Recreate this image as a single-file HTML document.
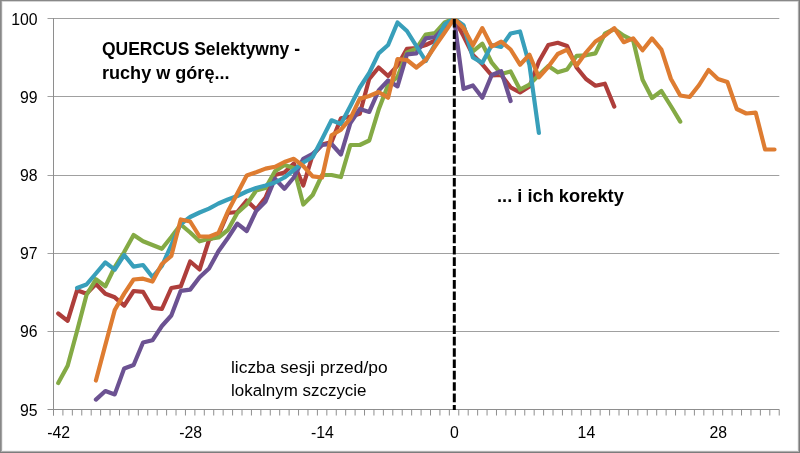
<!DOCTYPE html>
<html><head><meta charset="utf-8"><style>
html,body{margin:0;padding:0;background:#fff;}
#c{position:relative;width:800px;height:453px;overflow:hidden;background:#fff;}
svg{position:absolute;left:0;top:0;}
.t{font-family:"Liberation Sans",sans-serif;fill:#000;}
</style></head><body><div id="c">
<svg width="800" height="453" viewBox="0 0 800 453">
<g shape-rendering="crispEdges">
<rect x="0" y="0" width="800" height="1" fill="#888"/>
<rect x="1" y="1" width="797" height="1" fill="#d4d4d4"/>
<rect x="0" y="0" width="1" height="453" fill="#888"/>
<rect x="1" y="1" width="1" height="451" fill="#a2a2a2"/>
<rect x="2" y="2" width="1" height="449" fill="#eeeeee"/>
<rect x="797" y="2" width="1" height="449" fill="#f2f2f2"/>
<rect x="798" y="1" width="1" height="451" fill="#ababab"/>
<rect x="799" y="0" width="1" height="453" fill="#7c7c7c"/>
<rect x="2" y="450" width="795" height="1" fill="#f2f2f2"/>
<rect x="1" y="451" width="798" height="1" fill="#b0b0b0"/>
<rect x="0" y="452" width="800" height="1" fill="#7c7c7c"/>
</g>
<g stroke="#a0a0a0" stroke-width="1" fill="none">
<line x1="47.5" y1="18.5" x2="779.3" y2="18.5"/><line x1="47.5" y1="96.5" x2="779.3" y2="96.5"/><line x1="47.5" y1="175.5" x2="779.3" y2="175.5"/><line x1="47.5" y1="253.5" x2="779.3" y2="253.5"/><line x1="47.5" y1="331.5" x2="779.3" y2="331.5"/>
</g>
<g stroke="#8e8e8e" stroke-width="1" fill="none">
<line x1="53.5" y1="18" x2="53.5" y2="415.5"/>
<line x1="47.5" y1="409.5" x2="779.3" y2="409.5"/>
<path d="M53.50 409.5V415.5M62.92 409.5V415.5M72.35 409.5V415.5M81.78 409.5V415.5M91.20 409.5V415.5M100.62 409.5V415.5M110.05 409.5V415.5M119.48 409.5V415.5M128.90 409.5V415.5M138.32 409.5V415.5M147.75 409.5V415.5M157.18 409.5V415.5M166.60 409.5V415.5M176.03 409.5V415.5M185.45 409.5V415.5M194.88 409.5V415.5M204.30 409.5V415.5M213.73 409.5V415.5M223.15 409.5V415.5M232.58 409.5V415.5M242.00 409.5V415.5M251.43 409.5V415.5M260.85 409.5V415.5M270.27 409.5V415.5M279.70 409.5V415.5M289.12 409.5V415.5M298.55 409.5V415.5M307.98 409.5V415.5M317.40 409.5V415.5M326.83 409.5V415.5M336.25 409.5V415.5M345.68 409.5V415.5M355.10 409.5V415.5M364.53 409.5V415.5M373.95 409.5V415.5M383.38 409.5V415.5M392.80 409.5V415.5M402.23 409.5V415.5M411.65 409.5V415.5M421.08 409.5V415.5M430.50 409.5V415.5M439.93 409.5V415.5M449.35 409.5V415.5M458.78 409.5V415.5M468.20 409.5V415.5M477.63 409.5V415.5M487.05 409.5V415.5M496.48 409.5V415.5M505.90 409.5V415.5M515.33 409.5V415.5M524.75 409.5V415.5M534.17 409.5V415.5M543.60 409.5V415.5M553.03 409.5V415.5M562.45 409.5V415.5M571.88 409.5V415.5M581.30 409.5V415.5M590.73 409.5V415.5M600.15 409.5V415.5M609.58 409.5V415.5M619.00 409.5V415.5M628.43 409.5V415.5M637.85 409.5V415.5M647.28 409.5V415.5M656.70 409.5V415.5M666.12 409.5V415.5M675.55 409.5V415.5M684.98 409.5V415.5M694.40 409.5V415.5M703.83 409.5V415.5M713.25 409.5V415.5M722.68 409.5V415.5M732.10 409.5V415.5M741.53 409.5V415.5M750.95 409.5V415.5M760.38 409.5V415.5M769.80 409.5V415.5M779.23 409.5V415.5"/>
</g>
<defs><clipPath id="pa"><rect x="54" y="18.5" width="726" height="391"/></clipPath></defs>
<g fill="none" stroke-width="4.2" stroke-linejoin="round" stroke-linecap="round" clip-path="url(#pa)">
<polyline points="58.21,313.50 67.64,320.80 77.06,290.30 86.49,293.70 95.91,284.00 105.34,293.70 114.76,297.30 124.19,305.60 133.61,291.00 143.04,291.80 152.46,307.80 161.89,309.00 171.31,288.00 180.74,286.40 190.16,261.50 199.59,269.50 209.01,240.00 218.44,235.00 227.86,213.00 237.29,212.00 246.71,200.50 256.14,209.50 265.56,197.50 274.99,175.00 284.41,172.50 293.84,163.50 303.26,185.50 312.69,155.00 322.11,144.50 331.54,142.00 340.96,118.40 350.39,116.60 359.81,113.75 369.24,78.80 378.66,67.50 388.09,76.00 397.51,65.60 406.94,48.75 416.36,48.00 425.79,45.00 435.21,40.50 444.64,28.00 454.06,18.50 463.49,36.00 472.91,55.00 482.34,64.30 491.76,75.50 501.19,75.00 510.61,87.30 520.04,92.50 529.46,86.50 538.89,61.50 548.31,45.00 557.74,42.75 567.16,46.00 576.59,67.50 586.01,79.00 595.44,85.70 604.86,83.70 614.29,106.60" stroke="#AE3E3B"/>
<polyline points="58.21,383.00 67.64,365.80 77.06,331.00 86.49,295.00 95.91,279.30 105.34,286.30 114.76,267.00 124.19,252.00 133.61,235.00 143.04,241.30 152.46,245.00 161.89,248.80 171.31,237.00 180.74,224.50 190.16,232.50 199.59,241.30 209.01,238.80 218.44,237.50 227.86,230.00 237.29,213.00 246.71,204.50 256.14,190.50 265.56,188.00 274.99,171.30 284.41,165.00 293.84,168.00 303.26,204.50 312.69,195.00 322.11,175.00 331.54,175.00 340.96,177.00 350.39,145.00 359.81,145.00 369.24,140.50 378.66,109.60 388.09,85.00 397.51,77.00 406.94,52.50 416.36,48.75 425.79,34.50 435.21,33.00 444.64,22.50 454.06,18.50 463.49,26.30 472.91,51.30 482.34,43.70 491.76,62.70 501.19,74.00 510.61,71.40 520.04,89.70 529.46,84.60 538.89,75.00 548.31,66.00 557.74,72.30 567.16,69.40 576.59,55.90 586.01,55.30 595.44,53.40 604.86,33.75 614.29,29.00 623.71,35.60 633.14,40.30 642.56,79.70 651.99,98.00 661.41,91.00 670.84,106.00 680.26,121.60" stroke="#84AA45"/>
<polyline points="95.91,399.60 105.34,391.00 114.76,394.40 124.19,368.40 133.61,365.00 143.04,342.50 152.46,340.30 161.89,326.00 171.31,315.50 180.74,290.80 190.16,289.60 199.59,277.30 209.01,268.50 218.44,251.30 227.86,238.00 237.29,223.60 246.71,231.00 256.14,211.00 265.56,201.50 274.99,178.80 284.41,188.80 293.84,177.50 303.26,158.80 312.69,153.80 322.11,145.00 331.54,144.00 340.96,154.50 350.39,123.00 359.81,109.00 369.24,111.90 378.66,90.50 388.09,80.50 397.51,86.40 406.94,54.40 416.36,53.40 425.79,38.40 435.21,37.00 444.64,27.00 454.06,18.50 463.49,88.80 472.91,85.50 482.34,97.70 491.76,75.00 501.19,71.20 510.61,101.00" stroke="#6C5292"/>
<polyline points="77.06,288.00 86.49,284.50 95.91,273.50 105.34,262.40 114.76,269.60 124.19,255.00 133.61,266.60 143.04,265.00 152.46,277.00 161.89,266.00 171.31,245.00 180.74,224.00 190.16,217.00 199.59,212.50 209.01,208.60 218.44,203.50 227.86,199.50 237.29,196.00 246.71,191.50 256.14,188.00 265.56,185.50 274.99,182.50 284.41,177.50 293.84,170.00 303.26,162.50 312.69,157.00 322.11,139.00 331.54,120.30 340.96,124.00 350.39,106.00 359.81,87.50 369.24,73.00 378.66,53.40 388.09,45.00 397.51,22.50 406.94,31.00 416.36,46.00 425.79,61.00 435.21,44.00 444.64,24.40 454.06,18.50 463.49,25.30 472.91,57.50 482.34,62.80 491.76,45.00 501.19,46.90 510.61,33.50 520.04,31.50 529.46,65.00 538.89,133.00" stroke="#389FBA"/>
<polyline points="95.91,380.50 105.34,345.00 114.76,310.00 124.19,293.60 133.61,279.50 143.04,278.70 152.46,281.50 161.89,264.00 171.31,256.00 180.74,219.50 190.16,221.50 199.59,236.50 209.01,236.70 218.44,233.00 227.86,211.50 237.29,193.50 246.71,175.50 256.14,172.20 265.56,168.60 274.99,166.80 284.41,162.00 293.84,158.80 303.26,166.00 312.69,176.30 322.11,177.50 331.54,135.30 340.96,129.70 350.39,118.40 359.81,98.70 369.24,96.00 378.66,92.00 388.09,97.70 397.51,59.00 406.94,60.00 416.36,67.50 425.79,60.00 435.21,46.00 444.64,32.50 454.06,18.50 463.49,28.00 472.91,45.30 482.34,28.10 491.76,46.50 501.19,41.60 510.61,49.50 520.04,64.70 529.46,54.70 538.89,77.30 548.31,66.80 557.74,54.00 567.16,49.70 576.59,65.60 586.01,52.50 595.44,41.50 604.86,35.60 614.29,28.10 623.71,42.20 633.14,38.40 642.56,50.30 651.99,38.40 661.41,49.70 670.84,78.75 680.26,95.50 689.69,97.00 699.11,85.00 708.54,70.00 717.96,79.00 727.39,82.00 736.81,109.00 746.24,113.50 755.66,112.60 765.09,149.50 774.51,149.50" stroke="#DE7C31"/>
</g>
<line x1="454.3" y1="19" x2="454.3" y2="410" stroke="#000" stroke-width="3" stroke-dasharray="8.6 2.75"/>
<g class="t" font-size="15.8">
<text x="37.5" y="25.2" text-anchor="end">100</text><text x="37.5" y="103.2" text-anchor="end">99</text><text x="37.5" y="181.2" text-anchor="end">98</text><text x="37.5" y="259.2" text-anchor="end">97</text><text x="37.5" y="337.2" text-anchor="end">96</text><text x="37.5" y="415.7" text-anchor="end">95</text>
<text x="58.61" y="438.2" text-anchor="middle">-42</text><text x="190.56" y="438.2" text-anchor="middle">-28</text><text x="322.51" y="438.2" text-anchor="middle">-14</text><text x="454.46" y="438.2" text-anchor="middle">0</text><text x="586.41" y="438.2" text-anchor="middle">14</text><text x="718.36" y="438.2" text-anchor="middle">28</text>
</g>
<g class="t" font-weight="bold" font-size="18.8">
<text x="102" y="54.7" textLength="198" lengthAdjust="spacingAndGlyphs">QUERCUS Selektywny -</text>
<text x="102" y="79" textLength="127.5" lengthAdjust="spacingAndGlyphs">ruchy w górę...</text>
<text x="497" y="202.3" textLength="126.8" lengthAdjust="spacingAndGlyphs">... i ich korekty</text>
</g>
<g class="t" font-size="17.4">
<text x="231" y="373.2">liczba sesji przed/po</text>
<text x="231" y="395.8" textLength="135.5" lengthAdjust="spacingAndGlyphs">lokalnym szczycie</text>
</g>
</svg>
</div></body></html>
